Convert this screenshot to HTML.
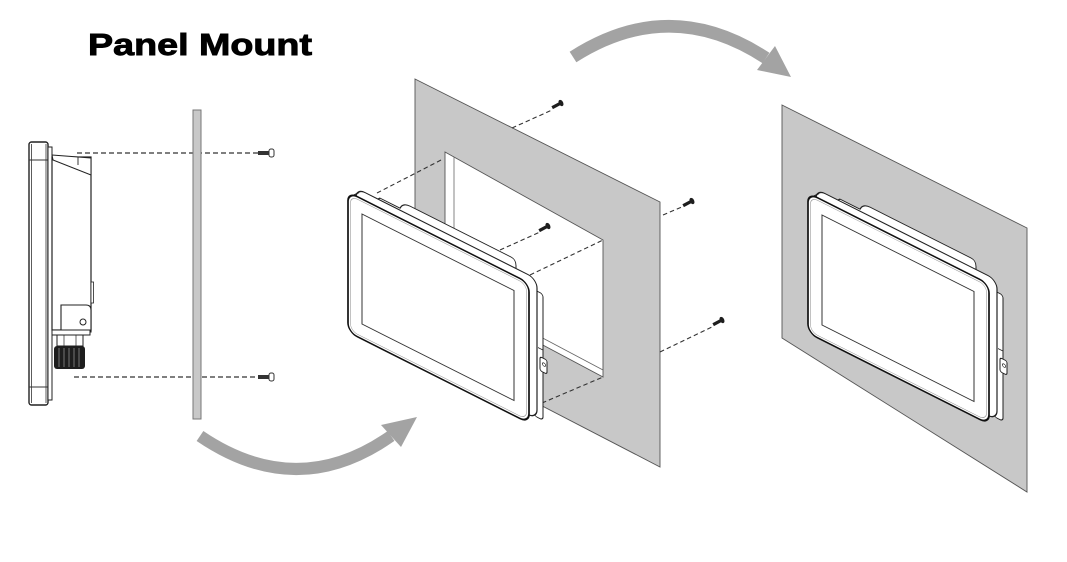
<!DOCTYPE html>
<html>
<head>
<meta charset="utf-8">
<style>
  html,body{margin:0;padding:0;background:#fff;}
  svg{display:block;}
</style>
</head>
<body>
<svg width="1067" height="562" viewBox="0 0 1067 562" xmlns="http://www.w3.org/2000/svg">
  <defs>
    <g id="mon">
      <!-- housing bump on top -->
      <path d="M26,-4 L32,-10 L52,-10 Q55,-17 62,-17 L163,-17 Q168,-17 168,-11 L168,2 Z" fill="#fff" stroke="#222" stroke-width="1"/>
      <!-- right back plate -->
      <rect x="186" y="4" width="9" height="126" rx="3" fill="#fff" stroke="#222" stroke-width="1"/>
      <line x1="190" y1="60" x2="195" y2="60" stroke="#222" stroke-width="0.8"/>
      <rect x="192" y="68" width="7" height="14" rx="2" fill="#fff" stroke="#222" stroke-width="1"/>
      <circle cx="196" cy="74" r="1.6" fill="none" stroke="#222" stroke-width="0.7"/>
      <!-- bezel back -->
      <rect x="8" y="-8" width="181" height="140" rx="9" fill="#fff" stroke="#222" stroke-width="1.2"/>
      <line x1="3" y1="3" x2="11" y2="-5" stroke="#222" stroke-width="0.9"/>
      <!-- front face -->
      <rect x="0" y="0" width="181" height="140" rx="9" fill="#fff" stroke="#111" stroke-width="1.7"/>
      <rect x="2.5" y="2.5" width="176" height="135" rx="7" fill="none" stroke="#999" stroke-width="0.6"/>
      <!-- screen -->
      <rect x="14" y="15" width="152" height="110" fill="#fff" stroke="#333" stroke-width="1"/>
    </g>
  </defs>

  <!-- Title -->
  <text x="88" y="55" font-family="Liberation Sans, Arial, sans-serif" font-weight="bold" font-size="31" textLength="224" lengthAdjust="spacingAndGlyphs" fill="#000" stroke="#000" stroke-width="0.9">Panel Mount</text>

  <!-- ================= LEFT SIDE VIEW ================= -->
  <!-- dashed lines -->
  <line x1="77" y1="153" x2="258" y2="153" stroke="#333" stroke-width="1.2" stroke-dasharray="5 3"/>
  <line x1="74" y1="377" x2="258" y2="377" stroke="#333" stroke-width="1.2" stroke-dasharray="5 3"/>
  <!-- panel strip -->
  <rect x="193" y="110" width="8" height="309" fill="#c8c8c8" stroke="#777" stroke-width="1"/>
  <!-- screws -->
  <g>
    <rect x="258" y="151" width="12" height="4" fill="#333"/>
    <rect x="269" y="149" width="5" height="8" rx="2" fill="#fff" stroke="#333" stroke-width="1"/>
    <rect x="258" y="375" width="12" height="4" fill="#333"/>
    <rect x="269" y="373" width="5" height="8" rx="2" fill="#fff" stroke="#333" stroke-width="1"/>
  </g>
  <!-- bezel -->
  <rect x="29" y="142" width="19" height="263" rx="2.5" fill="#fff" stroke="#222" stroke-width="1.4"/>
  <line x1="31.5" y1="144" x2="31.5" y2="403" stroke="#333" stroke-width="0.8"/>
  <line x1="46" y1="144" x2="46" y2="403" stroke="#333" stroke-width="0.8"/>
  <line x1="29" y1="160" x2="48" y2="160" stroke="#333" stroke-width="0.9"/>
  <line x1="29" y1="387" x2="48" y2="387" stroke="#333" stroke-width="0.9"/>
  <!-- thin strip -->
  <rect x="48" y="147" width="4" height="253" fill="#fff" stroke="#222" stroke-width="1"/>
  <path d="M52,192 a3,4 0 0 1 0,8" fill="none" stroke="#333" stroke-width="0.8"/>
  <!-- body -->
  <rect x="52" y="157" width="39" height="173" fill="#fff" stroke="#222" stroke-width="1.2"/>
  <polygon points="52,155 91,158 91,175 53,160" fill="#fff" stroke="#222" stroke-width="1"/>
  <line x1="78" y1="157" x2="78" y2="165" stroke="#222" stroke-width="0.9"/>
  <rect x="91" y="282" width="2.5" height="21" fill="#fff" stroke="#222" stroke-width="0.8"/>
  <!-- connector bracket -->
  <path d="M61,332 L61,305 L86,305 Q91,305 91,310 L91,332 Z" fill="#fff" stroke="#222" stroke-width="1.1"/>
  <circle cx="83" cy="322" r="3" fill="#fff" stroke="#222" stroke-width="1"/>
  <rect x="52" y="330" width="38" height="5" fill="#fff" stroke="#222" stroke-width="1"/>
  <rect x="57" y="335" width="26" height="11" fill="#fff" stroke="#222" stroke-width="1"/>
  <line x1="64" y1="335" x2="64" y2="346" stroke="#222" stroke-width="0.7"/>
  <line x1="76" y1="335" x2="76" y2="346" stroke="#222" stroke-width="0.7"/>
  <rect x="54" y="346" width="31" height="23" rx="3" fill="#1e1e1e"/>
  <g stroke="#777" stroke-width="1">
    <line x1="59" y1="348" x2="59" y2="367"/>
    <line x1="64" y1="348" x2="64" y2="367"/>
    <line x1="69" y1="348" x2="69" y2="367"/>
    <line x1="74" y1="348" x2="74" y2="367"/>
    <line x1="79" y1="348" x2="79" y2="367"/>
  </g>

  <!-- ================= BOTTOM ARROW ================= -->
  <path d="M200,436 Q297,502 391,436" fill="none" stroke="#a3a3a3" stroke-width="12"/>
  <polygon points="381,425 417,417 401,447" fill="#a3a3a3"/>

  <!-- ================= TOP ARROW ================= -->
  <path d="M573,57 Q670,-5 766,58" fill="none" stroke="#a3a3a3" stroke-width="12.5"/>
  <polygon points="757,70 775,46 791,77" fill="#a3a3a3"/>

  <!-- ================= MIDDLE ASSEMBLY ================= -->
  <polygon points="415,79 660,202 660,467 415,340" fill="#c8c8c8" stroke="#555" stroke-width="0.9"/>
  <!-- cutout -->
  <polygon points="445,152 603,240 603,377 445,293" fill="#fff" stroke="#555" stroke-width="0.9"/>
  <line x1="454" y1="157" x2="454" y2="300" stroke="#666" stroke-width="0.8"/>
  <line x1="520" y1="326" x2="603" y2="370" stroke="#666" stroke-width="0.8"/>
  <!-- dashed lines -->
  <g stroke="#333" stroke-width="1.1" stroke-dasharray="4.5 3" fill="none">
    <line x1="377" y1="193" x2="443" y2="159"/>
    <line x1="512" y1="128" x2="552" y2="110"/>
    <line x1="663" y1="215" x2="684" y2="206"/>
    <line x1="500" y1="250" x2="540" y2="232"/>
    <line x1="530" y1="275" x2="603" y2="240"/>
    <line x1="660" y1="352" x2="714" y2="326"/>
    <line x1="542" y1="403" x2="603" y2="377"/>
  </g>
  <!-- screws -->
  <g fill="#1e1e1e">
    <g transform="translate(561,103) rotate(-28)"><rect x="-10" y="-1.6" width="9" height="3.2"/><ellipse cx="0" cy="0" rx="2.2" ry="3.4"/></g>
    <g transform="translate(692,201) rotate(-28)"><rect x="-10" y="-1.6" width="9" height="3.2"/><ellipse cx="0" cy="0" rx="2.2" ry="3.4"/></g>
    <g transform="translate(548,226) rotate(-28)"><rect x="-10" y="-1.6" width="9" height="3.2"/><ellipse cx="0" cy="0" rx="2.2" ry="3.4"/></g>
    <g transform="translate(722,320) rotate(-28)"><rect x="-10" y="-1.6" width="9" height="3.2"/><ellipse cx="0" cy="0" rx="2.2" ry="3.4"/></g>
  </g>
  <!-- monitor -->
  <use href="#mon" transform="matrix(1,0.503,0,1,348,192)"/>

  <!-- ================= RIGHT ASSEMBLY ================= -->
  <polygon points="782,105 1027,228 1027,492 782,338" fill="#c8c8c8" stroke="#555" stroke-width="0.9"/>
  <use href="#mon" transform="matrix(1,0.503,0,1,808,193)"/>
</svg>
</body>
</html>
